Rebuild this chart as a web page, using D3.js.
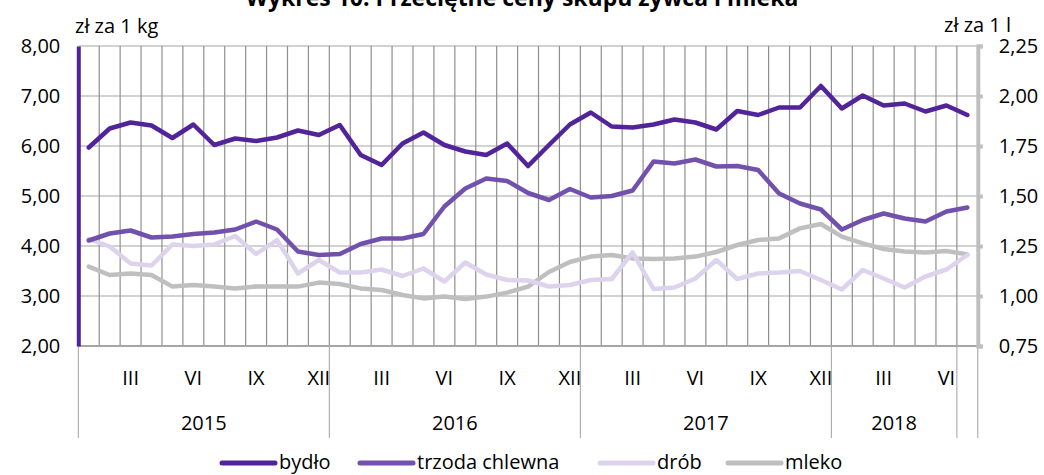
<!DOCTYPE html>
<html>
<head>
<meta charset="utf-8">
<script src="https://cdn.jsdelivr.net/npm/d3@7"></script>
<style>
  body { margin: 0; background: #fff; }
  svg text { font-family: "Open Sans", "Noto Sans", sans-serif; fill: #000; }
</style>
</head>
<body>
<svg id="chart-svg" width="1044" height="475"></svg>
<script>
// Months Jan 2015 .. Jul 2018
const months = d3.range(43);
const monthLabels = ["", "", "III", "", "", "VI", "", "", "IX", "", "", "XII"];
const yearGroups = [
    {label: "2015", start: 0, end: 12},
    {label: "2016", start: 12, end: 24},
    {label: "2017", start: 24, end: 36},
    {label: "2018", start: 36, end: 42},
    {label: "", start: 42, end: 43}
];

const bydlo = [5.97, 6.35, 6.47, 6.41, 6.16, 6.43, 6.02, 6.15, 6.10, 6.17, 6.31, 6.22,
    6.42, 5.82, 5.62, 6.05, 6.27, 6.02, 5.89, 5.82, 6.05, 5.60, 6.02, 6.43,
    6.67, 6.39, 6.37, 6.43, 6.53, 6.47, 6.33, 6.70, 6.62, 6.77, 6.77, 7.20,
    6.75, 7.01, 6.81, 6.85, 6.69, 6.81, 6.62];
const trzoda = [4.11, 4.25, 4.31, 4.17, 4.19, 4.24, 4.27, 4.33, 4.49, 4.33, 3.89, 3.82,
    3.84, 4.04, 4.15, 4.15, 4.24, 4.79, 5.15, 5.35, 5.30, 5.06, 4.92, 5.14,
    4.97, 5.00, 5.11, 5.69, 5.65, 5.73, 5.59, 5.60, 5.52, 5.05, 4.85, 4.73,
    4.33, 4.52, 4.65, 4.55, 4.49, 4.69, 4.77];
const drob = [4.14, 3.99, 3.65, 3.61, 4.03, 4.00, 4.03, 4.20, 3.84, 4.12, 3.45, 3.72,
    3.47, 3.47, 3.53, 3.40, 3.55, 3.29, 3.67, 3.43, 3.32, 3.31, 3.19, 3.22,
    3.32, 3.34, 3.87, 3.14, 3.17, 3.35, 3.72, 3.34, 3.45, 3.47, 3.50, 3.32,
    3.13, 3.52, 3.35, 3.17, 3.39, 3.53, 3.82];
// mleko on the right axis (zł za 1 l)
const mleko = [1.147, 1.105, 1.113, 1.105, 1.047, 1.055, 1.047, 1.038, 1.047, 1.047, 1.047, 1.067,
    1.060, 1.038, 1.030, 1.005, 0.988, 0.997, 0.985, 0.997, 1.017, 1.047, 1.120, 1.170,
    1.197, 1.205, 1.188, 1.185, 1.188, 1.197, 1.220, 1.255, 1.280, 1.288, 1.338, 1.360,
    1.297, 1.263, 1.235, 1.222, 1.217, 1.225, 1.208];

const leftTicks = [2, 3, 4, 5, 6, 7, 8];
const rightTicks = [0.75, 1.0, 1.25, 1.5, 1.75, 2.0, 2.25];

const series = [
    {name: "bydło", values: bydlo, color: "#51249a", axis: "left"},
    {name: "trzoda chlewna", values: trzoda, color: "#7251ad", axis: "left"},
    {name: "drób", values: drob, color: "#ddd3ec", axis: "left"},
    {name: "mleko", values: mleko, color: "#bfbfbf", axis: "right"}
];

const svg = d3.select('#chart-svg');
const fmt = v => d3.format(".2f")(v).replace(".", ",");

const margin = {left: 78.3, right: 977.8, top: 46, bottom: 346};

const xScale = d3.scaleBand().domain(months).range([margin.left, margin.right]).padding(0);
const bw = xScale.bandwidth();
const xEdge = i => margin.left + i * bw;
const xMid = i => xScale(i) + bw / 2;

const yLeft = d3.scaleLinear().domain([2, 8]).range([margin.bottom, margin.top]);
const yRight = d3.scaleLinear().domain([0.75, 2.25]).range([margin.bottom, margin.top]);

// Title (cut off at the top like the original)
svg.append("text")
    .attr("x", 522).attr("y", 6)
    .attr("text-anchor", "middle")
    .style("font-weight", "bold").style("font-size", "23px")
    .text("Wykres 10. Przeciętne ceny skupu żywca i mleka");

// Unit labels
svg.append("text").attr("x", 75).attr("y", 33).style("font-size", "20px").text("zł za 1 kg");
svg.append("text").attr("x", 1011).attr("y", 32).attr("text-anchor", "end").style("font-size", "20px").text("zł za 1 l");

// Horizontal gridlines
svg.append("g")
    .selectAll("line").data(leftTicks.slice(1)).join("line")
    .attr("x1", margin.left).attr("x2", margin.right)
    .attr("y1", d => yLeft(d)).attr("y2", d => yLeft(d))
    .attr("stroke", "#a6a6a6").attr("stroke-width", 1.2);

// Vertical gridlines
svg.append("g")
    .selectAll("line").data(d3.range(1, 43)).join("line")
    .attr("x1", d => xEdge(d)).attr("x2", d => xEdge(d))
    .attr("y1", margin.top).attr("y2", margin.bottom)
    .attr("stroke", "#8f8f8f").attr("stroke-width", 1.2);

// Bottom axis line
svg.append("line")
    .attr("x1", margin.left).attr("x2", margin.right)
    .attr("y1", margin.bottom).attr("y2", margin.bottom)
    .attr("stroke", "#a6a6a6").attr("stroke-width", 2);

// Year group separators
const seps = [0, 12, 24, 36, 42, 43];
svg.append("g")
    .selectAll("line").data(seps).join("line")
    .attr("x1", d => xEdge(d)).attr("x2", d => xEdge(d))
    .attr("y1", margin.bottom).attr("y2", 438)
    .attr("stroke", "#a0a0a0").attr("stroke-width", 1);

// Month labels
svg.append("g")
    .selectAll("text").data(months.filter(i => monthLabels[i % 12] !== "")).join("text")
    .attr("x", d => xMid(d)).attr("y", 385)
    .attr("text-anchor", "middle").style("font-size", "20px")
    .text(d => monthLabels[d % 12]);

// Year labels
svg.append("g")
    .selectAll("text").data(yearGroups).join("text")
    .attr("x", d => (xEdge(d.start) + xEdge(d.end)) / 2).attr("y", 430)
    .attr("text-anchor", "middle").style("font-size", "20px")
    .text(d => d.label);

// Left axis
const leftAxis = svg.append("g")
    .attr("transform", "translate(" + margin.left + ",0)")
    .call(d3.axisLeft(yLeft).tickValues(leftTicks).tickFormat(fmt).tickSize(0).tickPadding(18));
leftAxis.select(".domain").attr("stroke", "#51249a").attr("stroke-width", 4);
leftAxis.selectAll("text").style("font-size", "20px").attr("fill", "#000");

// Right axis
const rightAxis = svg.append("g")
    .attr("transform", "translate(" + margin.right + ",0)")
    .call(d3.axisRight(yRight).tickValues(rightTicks).tickFormat(fmt).tickSize(5).tickPadding(16));
rightAxis.select(".domain").attr("stroke", "#bfbfbf").attr("stroke-width", 4);
rightAxis.selectAll(".tick line").attr("stroke", "#bfbfbf").attr("stroke-width", 4);
rightAxis.selectAll("text").style("font-size", "20px").attr("fill", "#000");

// Lines (drawn back to front)
const drawOrder = [series[3], series[2], series[1], series[0]];
drawOrder.forEach(s => {
    const y = s.axis === "left" ? yLeft : yRight;
    svg.append("path")
        .datum(s.values)
        .attr("fill", "none")
        .attr("stroke", s.color)
        .attr("stroke-width", 4.5)
        .attr("stroke-linejoin", "round")
        .attr("stroke-linecap", "round")
        .attr("d", d3.line().x((d, i) => xMid(i)).y(d => y(d)));
});

// Legend
const legendX = [222, 360, 600, 728];
const legend = svg.append("g");
series.forEach((s, i) => {
    legend.append("line")
        .attr("x1", legendX[i]).attr("x2", legendX[i] + 53)
        .attr("y1", 463).attr("y2", 463)
        .attr("stroke", s.color).attr("stroke-width", 5).attr("stroke-linecap", "round");
    legend.append("text")
        .attr("x", legendX[i] + 57).attr("y", 469)
        .style("font-size", "20px")
        .text(s.name);
});
</script>
</body>
</html>
